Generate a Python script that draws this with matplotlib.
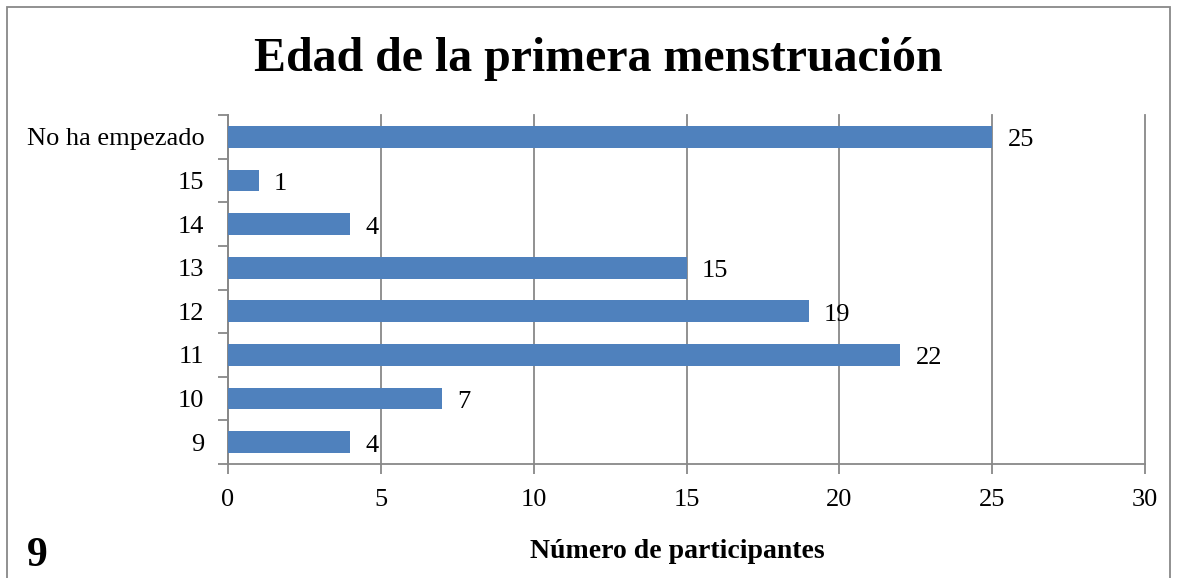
import matplotlib.pyplot as plt
from matplotlib.patches import Rectangle

categories = ["9", "10", "11", "12", "13", "14", "15", "No ha empezado"]
counts = [4, 7, 22, 19, 15, 4, 1, 25]

plt.rcParams['font.family'] = ['Liberation Serif', 'DejaVu Serif']

fig = plt.figure(figsize=(11.79, 5.78), dpi=100)
ax = fig.add_axes([228 / 1179, 1 - 464 / 578, (1145 - 228) / 1179, (464 - 115) / 578])

y = list(range(len(categories)))
ax.barh(y, counts, height=0.5, color="#4F81BD", zorder=3)
for yi, v in zip(y, counts):
    ax.text(v + 0.5, yi - 0.08, str(v), va="center", ha="left", fontsize=19)

ax.set_xlim(0, 30)
ax.set_ylim(-0.5, len(categories) - 0.5)
ax.set_xticks(range(0, 31, 5))
ax.set_yticks(y)
ax.set_yticklabels(categories)
ax.set_yticks([i - 0.5 for i in range(len(categories) + 1)], minor=True)
ax.tick_params(axis="y", which="major", length=0, labelsize=19, pad=17)
ax.tick_params(axis="y", which="minor", length=7, color="#888888", width=1.3)
ax.tick_params(axis="x", length=7, color="#888888", width=1.3, labelsize=19, pad=11)
ax.grid(axis="x", color="#888888", linewidth=1.3, zorder=0)
for line in ax.get_xgridlines():
    line.set_clip_on(False)
for side in ["top", "right"]:
    ax.spines[side].set_visible(False)
for side in ["left", "bottom"]:
    ax.spines[side].set_color("#888888")
    ax.spines[side].set_linewidth(1.3)

fig.text(598 / 1179, 1 - 59 / 578, "Edad de la primera menstruación",
         ha="center", va="center", fontsize=34.5, fontweight="bold")
fig.text(677 / 1179, 1 - 551 / 578, "Número de participantes",
         ha="center", va="center", fontsize=20, fontweight="bold")
fig.text(37 / 1179, 1 - 556 / 578, "9", ha="center", va="center",
         fontsize=30, fontweight="bold")

fig.patches.append(Rectangle((7 / 1179, -0.05), (1170 - 7) / 1179, 1.05 - 7 / 578,
                             transform=fig.transFigure, fill=False,
                             edgecolor="#888888", linewidth=1.3))

fig.savefig("out.png", dpi=100)
